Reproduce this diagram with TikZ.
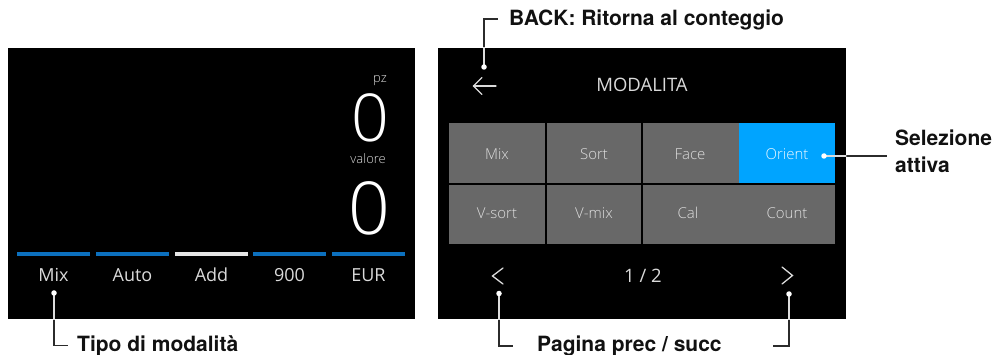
\documentclass[tikz,border=0pt]{standalone}
\usepackage{fontspec}
\newfontfamily\labfont{TeX Gyre Heros}
\newfontfamily\scrreg{Open Sans}
\IfFontExistsTF{Open Sans Light}{\newfontfamily\scrfont{Open Sans Light}}{\newfontfamily\scrfont{Open Sans}}
\definecolor{barblue}{HTML}{0C70BE}
\definecolor{barwhite}{HTML}{E6E6E6}
\definecolor{cellgrey}{HTML}{686868}
\definecolor{selblue}{HTML}{00A4FF}
\definecolor{scrtext}{HTML}{DADADA}
\definecolor{celltext}{HTML}{DEDEDE}
\definecolor{conncol}{HTML}{2B2B2B}
\definecolor{connin}{HTML}{DCDCDC}
\definecolor{labcol}{HTML}{111111}
\begin{document}
\begin{tikzpicture}[x=1pt,y=-1pt,
  screen/.style={fill=black, draw=none, inner sep=0pt, anchor=north west},
  lab/.style={font=\labfont\bfseries\fontsize{21}{27}\selectfont, text=labcol, inner sep=0pt, anchor=base west},
  scr/.style={font=\scrfont\fontsize{#1}{#1}\selectfont, inner sep=0pt, anchor=base, text=scrtext},
  scrr/.style={font=\scrreg\fontsize{#1}{#1}\selectfont, inner sep=0pt, anchor=base, text=scrtext},
  bigzero/.style={scr=#1, anchor=base east, text=white, text depth=0pt},
  celltxt/.style={scr=15, text=celltext},
  dotmark/.style={circle, fill=white, draw=none, inner sep=0pt, minimum size=5.5pt},
  conn/.style={draw=conncol, line width=1.4pt},
  connw/.style={draw=connin, line width=1.4pt},
  barline/.style={line width=4pt},
  icon/.style={draw=scrtext, line width=1.3pt, line cap=round, line join=miter}]
\useasboundingbox (0,0) rectangle (996,355);
% screens
\node[screen, minimum width=407pt, minimum height=271pt] (lscr) at (8,48) {};
\node[screen, minimum width=408pt, minimum height=271pt] (rscr) at (438,48) {};

% ---------- left screen ----------
\node[scr=13, anchor=base east] (pz) at (387,83) {pz};
\node[bigzero=66, text height=47pt] (zero1) at (389,142) {0};
\node[scr=13, anchor=base east, text depth=0pt] (valore) at (386,164) {valore};
\node[bigzero=73, text height=52pt] (zero2) at (390,235) {0};

\draw[barline, barblue] (17,254) -- (90,254);
\draw[barline, barblue] (96,254) -- (169,254);
\draw[barline, barwhite] (175,254) -- (248,254);
\draw[barline, barblue] (253,254) -- (326,254);
\draw[barline, barblue] (332,254) -- (405,254);

\node[scrr=18] (tmix) at (53.5,282) {Mix};
\node[scrr=18] (tauto) at (132.5,282) {Auto};
\node[scrr=18] (tadd) at (211.5,282) {Add};
\node[scrr=18] (t900) at (289.5,282) {900};
\node[scrr=18] (teur) at (368.5,282) {EUR};

% ---------- right screen ----------
\draw[icon] (496,86) -- (473.5,86);
\draw[icon] (482,77.5) -- (473.5,86) -- (482,94.5);
\node[scrr=18.5] (title) at (642,92) {MODALITA};

\fill[cellgrey] (449,123) rectangle (835,244);
\fill[selblue] (738.5,123) rectangle (835,183.5);
\draw[black, line width=2pt] (546,123) -- (546,244);
\draw[black, line width=2pt] (642,123) -- (642,244);
\draw[black, line width=2pt] (449,184) -- (835,184);

\node[celltxt] (cmix) at (497,160) {Mix};
\node[celltxt] (csort) at (594,160) {Sort};
\node[celltxt] (cface) at (690,160) {Face};
\node[celltxt, text=white!92!selblue] (corient) at (787,160) {Orient};
\node[celltxt] (cvsort) at (497,219) {V-sort};
\node[celltxt] (cvmix) at (594,219) {V-mix};
\node[celltxt] (ccal) at (688,219) {Cal};
\node[celltxt] (ccount) at (787,219) {Count};

\draw[icon] (503,268) -- (492.5,276) -- (503,284);
\draw[icon] (782,267) -- (792.5,275.5) -- (782,284);
\node[scrr=18.5] (page) at (643,283) {1 / 2};

% ---------- callouts ----------
\coordinate (pmix) at (54,293);
\coordinate (emix) at (68,345.5);
\coordinate (pback) at (484,67);
\coordinate (eback) at (498,19);
\coordinate (porient) at (824,156);
\coordinate (eorient) at (887,156);
\coordinate (pprev) at (499,293.5);
\coordinate (eprev) at (513,346);
\coordinate (pnext) at (789,294);
\coordinate (enext) at (773,346);

\draw[conn] (pmix) |- (emix);
\draw[conn] (pback) |- (eback);
\draw[conn] (porient) -- (eorient);
\draw[conn] (pprev) |- (eprev);
\draw[conn] (pnext) |- (enext);

\begin{scope}
\clip (lscr.north west) rectangle (lscr.south east);
\draw[connw] (pmix) |- (emix);
\end{scope}
\begin{scope}
\clip (rscr.north west) rectangle (rscr.south east);
\draw[connw] (pback) |- (eback);
\draw[connw] (porient) -- (eorient);
\draw[connw] (pprev) |- (eprev);
\draw[connw] (pnext) |- (enext);
\end{scope}

\node[dotmark] (dmix) at (pmix) {};
\node[dotmark] (dback) at (pback) {};
\node[dotmark] (dorient) at (porient) {};
\node[dotmark] (dprev) at (pprev) {};
\node[dotmark] (dnext) at (pnext) {};

\node[lab] (ltipo) at (77,352) {Tipo di modalità};
\node[lab] (lback) at (509,25.5) {BACK: Ritorna al conteggio};
\node[lab] (lsel1) at (895,146) {Selezione};
\node[lab] (lsel2) at (895,173) {attiva};
\node[lab] (lpag) at (537,352) {Pagina prec / succ};
\end{tikzpicture}
\end{document}
